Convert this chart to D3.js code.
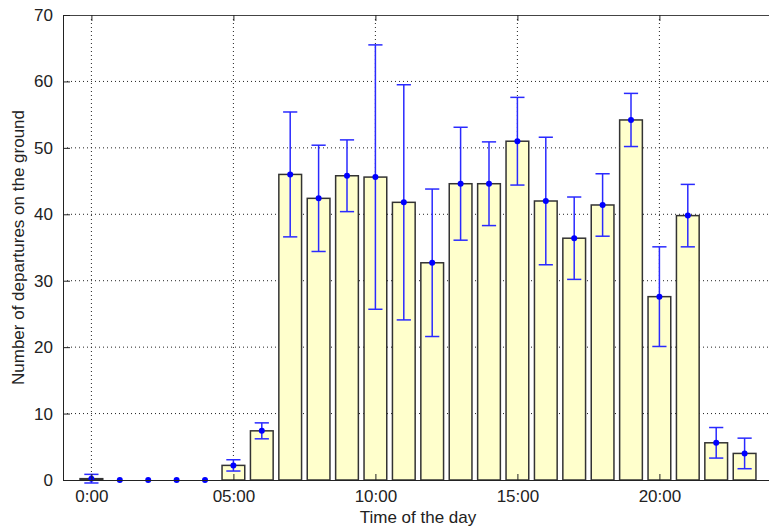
<!DOCTYPE html>
<html>
<head>
<meta charset="utf-8">
<script src="https://cdn.jsdelivr.net/npm/d3@7.9.0/dist/d3.min.js"></script>
<style>
  body { margin: 0; background: #fff; }
  svg { display: block; font-family: "Liberation Sans", Arial, sans-serif; }
  .tick text { fill: #222; font-size: 17px; }
</style>
</head>
<body>
<svg width="769" height="529"></svg>
<script>
// hourly departures on the ground (mean and +/- error)
const hours = d3.range(0, 24);
const means = [0.2, 0, 0, 0, 0, 2.2, 7.4, 46.0, 42.4, 45.8, 45.6, 41.8,
  32.7, 44.6, 44.6, 51.0, 42.0, 36.4, 41.4, 54.2, 27.6, 39.8, 5.6, 4.0];
const errors = [0.65, 0, 0, 0, 0, 0.85, 1.2, 9.4, 8.0, 5.4, 19.9, 17.7,
  11.1, 8.5, 6.3, 6.6, 9.6, 6.2, 4.7, 4.0, 7.5, 4.7, 2.3, 2.3];
const xTicks = [0, 5, 10, 15, 20];
const xTickLabels = ['0:00', '05:00', '10:00', '15:00', '20:00'];
const yTicks = [0, 10, 20, 30, 40, 50, 60, 70];

const pLeft = 63, pRight = 773, pTop = 15, pBottom = 480;
const svg = d3.select('svg');

const x = d3.scaleLinear().domain([-1, 24]).range([pLeft, pRight]);
const y = d3.scaleLinear().domain([0, 70]).range([pBottom, pTop]);
const barW = x(0.8) - x(0);
const capW = x(0.25) - x(0);

// grid lines (dotted)
const grid = svg.append('g').attr('stroke', '#222').attr('stroke-dasharray', '1,3');
xTicks.forEach((t) => {
  grid.append('line').attr('x1', x(t)).attr('x2', x(t)).attr('y1', pTop).attr('y2', pBottom);
});
yTicks.slice(1, -1).forEach((t) => {
  grid.append('line').attr('x1', pLeft).attr('x2', pRight).attr('y1', y(t)).attr('y2', y(t));
});

// bars
svg.append('g').selectAll('rect')
  .data(hours.filter((h) => means[h] > 0))
  .join('rect')
  .attr('x', (h) => x(h) - barW / 2)
  .attr('y', (h) => y(means[h]))
  .attr('width', barW)
  .attr('height', (h) => y(0) - y(means[h]))
  .attr('fill', '#ffffcc')
  .attr('stroke', '#333')
  .attr('stroke-width', 1.5);

// error bars
const eb = svg.append('g').attr('stroke', '#2a2aff').attr('stroke-width', 1.5);
hours.filter((h) => errors[h] > 0).forEach((h) => {
  const lo = y(means[h] - errors[h]), hi = y(means[h] + errors[h]);
  eb.append('line').attr('x1', x(h)).attr('x2', x(h)).attr('y1', lo).attr('y2', hi);
  eb.append('line').attr('x1', x(h) - capW).attr('x2', x(h) + capW).attr('y1', hi).attr('y2', hi);
  eb.append('line').attr('x1', x(h) - capW).attr('x2', x(h) + capW).attr('y1', lo).attr('y2', lo);
});
svg.append('g').selectAll('circle')
  .data(hours)
  .join('circle')
  .attr('cx', (h) => x(h))
  .attr('cy', (h) => y(means[h]))
  .attr('r', 3)
  .attr('fill', '#0000ff');

// axes, ticks pointing inward on all sides
const fmt = (t) => xTickLabels[xTicks.indexOf(t)];
svg.append('g')
  .attr('transform', `translate(0,${pBottom})`)
  .call(d3.axisBottom(x).tickValues(xTicks).tickFormat(fmt).tickSize(-6).tickPadding(10).tickSizeOuter(0))
  .call((g) => g.select('.domain').attr('stroke', '#222'));
svg.append('g')
  .attr('transform', `translate(0,${pTop})`)
  .call(d3.axisTop(x).tickValues(xTicks).tickFormat('').tickSize(-6).tickSizeOuter(0))
  .call((g) => g.select('.domain').attr('stroke', '#444'));
svg.append('g')
  .attr('transform', `translate(${pLeft},0)`)
  .call(d3.axisLeft(y).tickValues(yTicks).tickSize(-7).tickPadding(10).tickSizeOuter(0))
  .call((g) => g.select('.domain').attr('stroke', '#222'));
svg.selectAll('.tick line').attr('stroke', '#222');
svg.selectAll('.tick text').attr('font-family', null);

// axis titles
svg.append('text')
  .attr('x', (pLeft + pRight) / 2)
  .attr('y', 523)
  .attr('text-anchor', 'middle')
  .attr('font-size', 17)
  .attr('fill', '#222')
  .text('Time of the day');
svg.append('text')
  .attr('transform', `translate(24,${(pTop + pBottom) / 2}) rotate(-90)`)
  .attr('text-anchor', 'middle')
  .attr('font-size', 17)
  .attr('fill', '#222')
  .text('Number of departures on the ground');
</script>
</body>
</html>
